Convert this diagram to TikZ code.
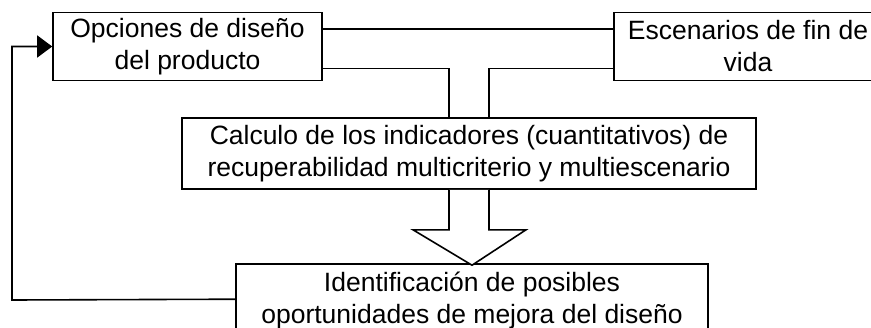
\documentclass[tikz,border=0pt]{standalone}
\usepackage{fontspec}
\setmainfont{Liberation Sans}
\usetikzlibrary{arrows.meta}
\begin{document}
\begin{tikzpicture}[x=1pt,y=-1pt,
  box/.style={draw,line width=1.6pt,rectangle,inner sep=0pt,align=center,
    font=\fontsize{26.5}{32}\selectfont},
  conn/.style={line width=1.6pt},
]
\useasboundingbox (0,0) rectangle (871,327);
\clip (0,0) rectangle (871,327);
\node[box,minimum width=269pt,minimum height=68pt] (b1) at (187.5,46.5) {Opciones de diseño\\del producto};
\node[box,minimum width=268pt,minimum height=68pt] (b2) at (748,46.5) {Escenarios de fin de\\vida};
\node[box,minimum width=574pt,minimum height=71pt] (b3) at (469,153.5) {Calculo de los indicadores (cuantitativos) de\\recuperabilidad multicriterio y multiescenario};
\node[box,minimum width=472pt,minimum height=72pt] (b4) at (472,300) {Identificación de posibles\\oportunidades de mejora del diseño};
% top connectors
\draw[conn] ([yshift=-17pt]b1.north east) -- ([yshift=-17pt]b2.north west);
\draw[conn] ([yshift=13pt]b1.south east) -| ([xshift=-20pt]b3.north);
\draw[conn] ([yshift=13pt]b2.south west) -| ([xshift=20pt]b3.north);
% big hollow arrow
\draw[conn,line join=miter,fill=white]
  ([xshift=-20pt]b3.south) -- ([xshift=-20pt,yshift=-40pt]b3.south) -- ([xshift=-56pt,yshift=-40pt]b3.south)
  -- ([yshift=-2pt]b4.north) -- ([xshift=57pt,yshift=-40pt]b3.south) -- ([xshift=20pt,yshift=-40pt]b3.south)
  -- ([xshift=20pt]b3.south);
% feedback
\coordinate (fb) at (12,300);
\draw[conn,-{Triangle[length=15pt,width=22pt]}] ([yshift=-36pt]b4.north west) -- (fb) |- (b1.west);
\end{tikzpicture}
\end{document}
